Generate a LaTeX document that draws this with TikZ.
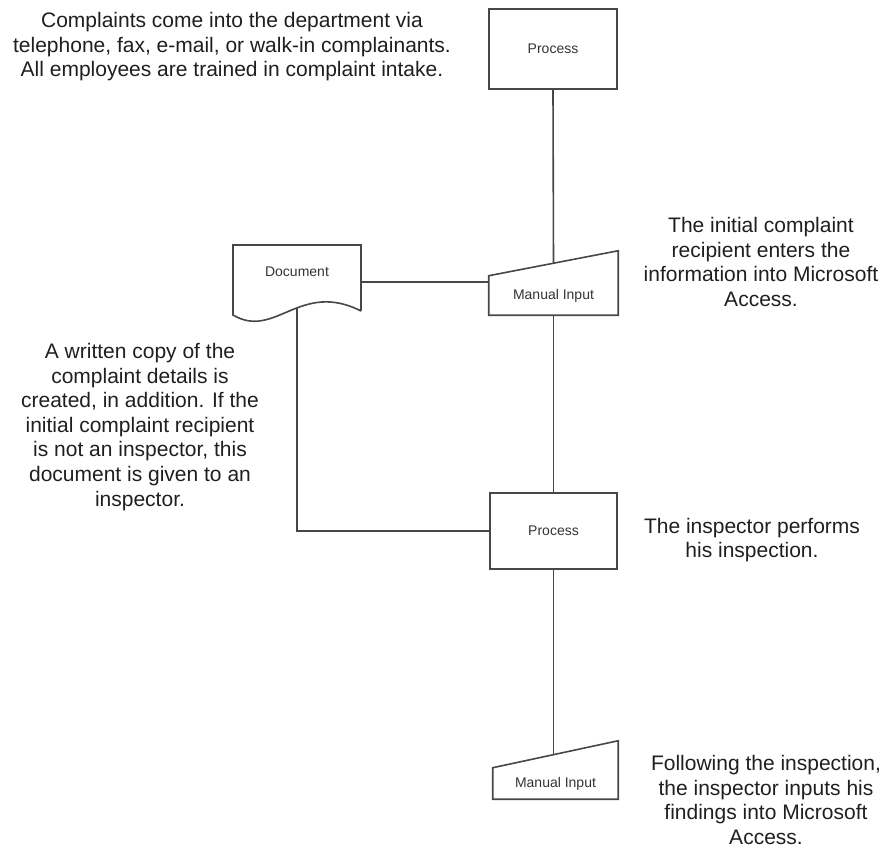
\documentclass[tikz,border=0pt]{standalone}
\usepackage{fontspec}
\setmainfont{Liberation Sans}
\begin{document}
\begin{tikzpicture}[x=0.75pt,y=-0.75pt,
  line/.style={draw=black!72, line width=1.2pt},
  shapetext/.style={inner sep=0pt, font=\fontsize{10.5}{12}\selectfont, text=black!80},
  procbox/.style={shapetext, line, rectangle},
  note/.style={align=center, inner sep=0pt, font=\fontsize{15.75}{18.4}\selectfont, text=black!88}]
\useasboundingbox (0,0) rectangle (886,848);

% process boxes
\node[procbox, minimum width=128*0.75pt, minimum height=80*0.75pt] (p1) at (553,49) {Process};
\node[procbox, minimum width=127*0.75pt, minimum height=76*0.75pt] (p2) at (553.5,531) {Process};

% manual input shapes: node covers the rectangular part, the slanted lid is drawn above it
\node[shapetext, minimum width=129*0.75pt, minimum height=39*0.75pt] (mi1) at (553.5,295.5) {Manual Input};
\draw[line] (mi1.south west) -- (mi1.north west) -- ([yshift=25*0.75pt]mi1.north east) -- (mi1.south east) -- cycle;
\coordinate (mi1top) at (553.5,263.5);

\node[shapetext, minimum width=125*0.75pt, minimum height=31*0.75pt] (mi2) at (555.5,783.5) {Manual Input};
\draw[line] (mi2.south west) -- (mi2.north west) -- ([yshift=27*0.75pt]mi2.north east) -- (mi2.south east) -- cycle;
\coordinate (mi2top) at (553.5,755);

% document shape with wavy lower edge
\node[shapetext, minimum width=128*0.75pt, minimum height=54*0.75pt] (doc) at (297,272) {Document};
\draw[line, shift={(doc.center)}] (64,39) -- (64,-27) -- (-64,-27) -- (-64,43)
  .. controls (-22,68) and (3,8) .. (64,39);
\coordinate (docb) at ([yshift=-36*0.75pt]doc.center);
\coordinate (docr) at ([yshift=-10*0.75pt]doc.east);

% connectors
\draw[line] (p1.south) -- (mi1top);
\draw[line] (docr) -- (docr -| mi1.west);
\draw[line] (mi1.south) -- (p2.north);
\draw[line] (docb) |- (p2.west);
\draw[line] (p2.south) -- (mi2top);

% annotations
\node[note] (n1) at (232,47) {Complaints come into the department via\\telephone, fax, e-mail, or walk-in complainants.\\All employees are trained in complaint intake.};
\node[note] (n2) at (761,262) {The initial complaint\\recipient enters the\\information into Microsoft\\Access.};
\node[note] (n3) at (140,427) {A written copy of the\\complaint details is\\created, in addition. If the\\initial complaint recipient\\is not an inspector, this\\document is given to an\\inspector.};
\node[note] (n4) at (752,540) {The inspector performs\\his inspection.};
\node[note] (n5) at (766,800) {Following the inspection,\\the inspector inputs his\\findings into Microsoft\\Access.};
\end{tikzpicture}
\end{document}
